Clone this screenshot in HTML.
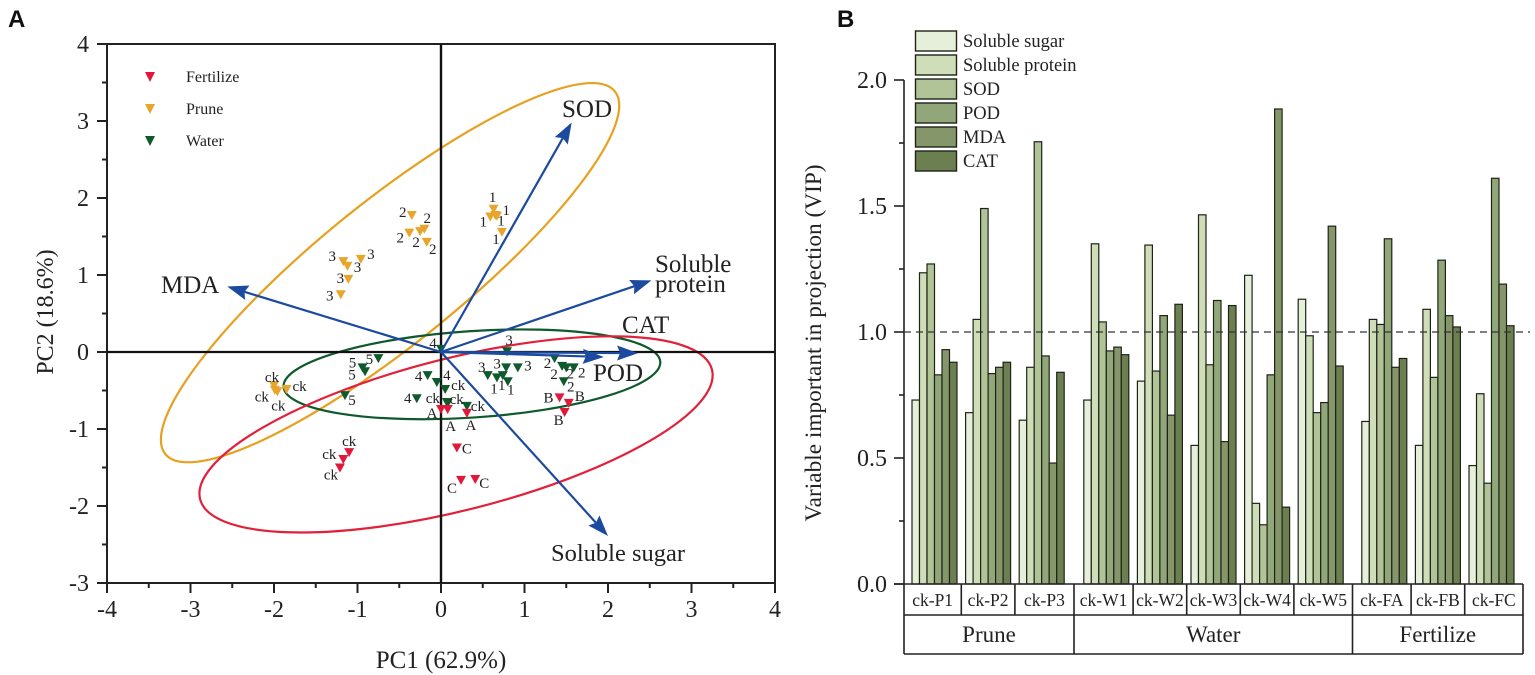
<!DOCTYPE html>
<html lang="en">
<head>
<meta charset="utf-8">
<title>PCA biplot and VIP bar chart</title>
<style>
html,body{margin:0;padding:0;background:#fff;width:1535px;height:675px;overflow:hidden}
svg{display:block;filter:blur(0.3px)}
text{font-family:"Liberation Serif",serif;fill:#222}
.panel{font-family:"Liberation Sans",sans-serif;font-weight:700;font-size:24px;fill:#111}
</style>
</head>
<body>
<svg id="figure" xmlns="http://www.w3.org/2000/svg" width="1535" height="675" viewBox="0 0 1535 675">
  <text class="panel" x="8" y="27">A</text>
  <text class="panel" x="837" y="27">B</text>

  <g id="pca">
    <rect x="107" y="44" width="668" height="539" fill="none" stroke="#222" stroke-width="2"/>
    <g id="pcaTicks"></g>
    <g id="pcaEllipses"></g>
    <line x1="107" y1="352" x2="775" y2="352" stroke="#111" stroke-width="2.2"/>
    <line x1="441" y1="44" x2="441" y2="583" stroke="#111" stroke-width="2.4"/>
    <g id="pcaPoints"></g>
    <g id="pcaArrows"></g>
    <text x="441" y="668" font-size="25" text-anchor="middle">PC1 (62.9%)</text>
    <text transform="translate(53,312) rotate(-90)" font-size="24" text-anchor="middle">PC2 (18.6%)</text>
    <g font-size="25">
      <text x="562" y="117">SOD</text>
      <text x="655" y="272">Soluble</text>
      <text x="655" y="292">protein</text>
      <text x="161" y="293">MDA</text>
      <text x="622" y="333">CAT</text>
      <text x="593" y="381">POD</text>
      <text x="551" y="561" font-size="24.5">Soluble sugar</text>
    </g>
    <g font-size="16">
      <g>
        <polygon points="145,72 155,72 150,82" fill="#e1183a"/>
        <text x="186" y="82">Fertilize</text>
      </g>
      <g>
        <polygon points="145,104 155,104 150,114" fill="#e7a52c"/>
        <text x="186" y="114">Prune</text>
      </g>
      <g>
        <polygon points="145,136 155,136 150,146" fill="#0f5a2c"/>
        <text x="186" y="146">Water</text>
      </g>
    </g>
  </g>

  <g id="vip">
    <text transform="translate(821,343) rotate(-90)" font-size="23.3" text-anchor="middle">Variable important in projection (VIP)</text>
    <g id="vipBars"></g>
    <g id="vipAxes"></g>
    <line x1="904" y1="332" x2="1530" y2="332" stroke="#333" stroke-width="1.2" stroke-dasharray="7 5"/>
    <g id="vipLegend"></g>
  </g>
</svg>
<script>
// ---------- Panel B data ----------
const vipCategories = ["ck-P1","ck-P2","ck-P3","ck-W1","ck-W2","ck-W3","ck-W4","ck-W5","ck-FA","ck-FB","ck-FC"];
const vipSeriesNames = ["Soluble sugar","Soluble protein","SOD","POD","MDA","CAT"];
const vipSolubleSugar   = [0.73,0.68,0.65,0.73,0.805,0.55,1.225,1.13,0.645,0.55,0.47];
const vipSolubleProtein = [1.235,1.05,0.86,1.35,1.345,1.465,0.32,0.985,1.05,1.09,0.755];
const vipSOD            = [1.27,1.49,1.755,1.04,0.845,0.87,0.235,0.68,1.03,0.82,0.40];
const vipPOD            = [0.83,0.835,0.905,0.925,1.065,1.125,0.83,0.72,1.37,1.285,1.61];
const vipMDA            = [0.93,0.86,0.48,0.94,0.67,0.565,1.885,1.42,0.86,1.065,1.19];
const vipCAT            = [0.88,0.88,0.84,0.91,1.11,1.105,0.305,0.865,0.895,1.02,1.025];
const vipGroups = ["Prune","Water","Fertilize"];
const vipGroupSizes = [3,5,3];
const vipTicks = [0,0.5,1,1.5,2];
const vipTickLabels = ["0.0","0.5","1.0","1.5","2.0"];
const vipMinorTicks = [0.25,0.75,1.25,1.75];

// ---------- Panel A data ----------
const pc1Ticks = [-4,-3,-2,-1,0,1,2,3,4];
const pc2Ticks = [-3,-2,-1,0,1,2,3,4];
const pc1Minor = [-3.5,-2.5,-1.5,-0.5,0.5,1.5,2.5,3.5];
const pc2Minor = [-2.5,-1.5,-0.5,0.5,1.5,2.5,3.5];

const prunePC1 = [-1.17,-1.12,-0.96,-1.11,-1.20,-0.35,-0.20,-0.25,-0.38,-0.17,0.63,0.65,0.59,0.67,0.73,-2.0,-1.99,-1.96,-1.85];
const prunePC2 = [1.18,1.12,1.21,0.95,0.75,1.78,1.60,1.57,1.55,1.43,1.86,1.78,1.76,1.77,1.56,-0.43,-0.49,-0.51,-0.48];
const pruneLabels = ["3","3","3","3","3","2","2","2","2","2","1","1","1","1","1","ck","ck","ck","ck"];
const pruneLabelDx = [-11,10,10,-8,-11,-9,3,-4,-9,6,-1,11,-7,4,-6,-2,-13,1,13];
const pruneLabelDy = [-5,1,-5,-1,1,-3,-11,11,5,7,-12,-5,5,5,7,-8,7,14,-3];

const waterPC1 = [-0.75,-0.94,-0.91,-1.15,0,-0.16,-0.05,-0.29,0.05,0.07,0.08,0.31,0.79,0.56,0.78,0.92,0.67,0.74,0.80,1.36,1.45,1.50,1.59,1.47];
const waterPC2 = [-0.08,-0.20,-0.25,-0.56,0.04,-0.30,-0.39,-0.60,-0.48,-0.65,-0.66,-0.70,0.01,-0.30,-0.20,-0.20,-0.33,-0.30,-0.38,-0.08,-0.18,-0.20,-0.20,-0.38];
const waterLabels = ["5","5","5","5","4","4","4","4","ck","ck","ck","ck","3","3","3","3","1","1","1","2","2","2","2","2"];
const waterLabelDx = [-9,-10,-13,7,-8,-9,10,-9,13,-14,9,11,2,-6,-9,10,-3,-1,3,-7,-8,4,8,7];
const waterLabelDy = [1,-5,3,5,-6,1,-7,0,-4,-4,-4,0,-11,-8,-4,-2,11,10,8,5,8,6,5,5];

const fertilizePC1 = [1.42,1.53,1.48,0,0.08,0.31,0.19,0.24,0.41,-1.10,-1.17,-1.21];
const fertilizePC2 = [-0.59,-0.66,-0.78,-0.74,-0.74,-0.79,-1.24,-1.66,-1.65,-1.30,-1.39,-1.50];
const fertilizeLabels = ["B","B","B","A","A","A","C","C","C","ck","ck","ck"];
const fertilizeLabelDx = [-11,11,-6,-9,3,4,10,-9,9,0,-14,-9];
const fertilizeLabelDy = [0,-7,8,4,17,12,1,8,4,-11,-5,7];

const loadingNames = ["SOD","Soluble protein","MDA","POD","CAT","Soluble sugar"];
const loadingPC1 = [1.565,2.52,-2.56,1.95,2.36,2.0];
const loadingPC2 = [2.98,0.93,0.85,-0.065,-0.015,-2.39];

const ellipseNames = ["prune","water","fertilize"];
const ellipseCenterPC1 = [-0.61,0.37,0.18];
const ellipseCenterPC2 = [1.03,-0.29,-1.07];
const ellipseMajor = [3.61,2.36,3.30];
const ellipseMinor = [0.89,0.54,0.95];
const ellipseAngle = [38.9,3.8,14.2];

// ---------- helpers ----------
const NS = "http://www.w3.org/2000/svg";
function add(tag, props, parent, name) {
  const el = document.createElementNS(NS, tag);
  for (const k in props) el.setAttribute(k, props[k]);
  
  
  parent.appendChild(el);
  return el;
}
function slug(s) { return s.toLowerCase().replace(/[^a-z0-9]+/g, '-'); }

// ---------- Panel A scales ----------
const xPC = v => 441 + v * 83.5;
const yPC = v => 352 - v * 77;
const pcaTicks = document.getElementById('pcaTicks');
const STROKE = '#222';
pc1Ticks.forEach(v => {
  add('line', {x1:xPC(v), x2:xPC(v), y1:583, y2:593, stroke:STROKE, 'stroke-width':2}, pcaTicks, 'x-tick-' + v);
  add('text', {x:xPC(v), y:617, 'font-size':24, 'text-anchor':'middle'}, pcaTicks, 'x-tick-label-' + v).textContent = String(v);
});
pc1Minor.forEach(v => add('line', {x1:xPC(v), x2:xPC(v), y1:583, y2:588, stroke:STROKE, 'stroke-width':2}, pcaTicks, 'x-minor-tick'));
pc2Ticks.forEach(v => {
  add('line', {x1:97, x2:107, y1:yPC(v), y2:yPC(v), stroke:STROKE, 'stroke-width':2}, pcaTicks, 'y-tick-' + v);
  add('text', {x:89, y:yPC(v) + 8, 'font-size':24, 'text-anchor':'end'}, pcaTicks, 'y-tick-label-' + v).textContent = String(v);
});
pc2Minor.forEach(v => add('line', {x1:102, x2:107, y1:yPC(v), y2:yPC(v), stroke:STROKE, 'stroke-width':2}, pcaTicks, 'y-minor-tick'));

const ellipseColors = ['#e7a020','#0f5a2c','#e2203a'];
const pcaEllipses = document.getElementById('pcaEllipses');
ellipseNames.forEach((n, i) => {
  const cx = xPC(ellipseCenterPC1[i]), cy = yPC(ellipseCenterPC2[i]);
  add('ellipse', {cx:cx, cy:cy, rx:ellipseMajor[i] * 80, ry:ellipseMinor[i] * 80,
    transform:'rotate(' + (-ellipseAngle[i]) + ' ' + cx + ' ' + cy + ')',
    fill:'none', stroke:ellipseColors[i], 'stroke-width':2.2}, pcaEllipses, 'confidence-ellipse-' + n);
});

const pcaPoints = document.getElementById('pcaPoints');
function drawPoints(pc1, pc2, labels, dx, dy, color, name) {
  pc1.forEach((v, i) => {
    const x = xPC(v), y = yPC(pc2[i]);
    add('polygon', {points:(x-5)+','+(y-4)+' '+(x+5)+','+(y-4)+' '+x+','+(y+5), fill:color}, pcaPoints, 'point-' + name + '-' + labels[i]);
    add('text', {x:x + dx[i], y:y + dy[i] + 5, 'font-size':15, 'text-anchor':'middle'}, pcaPoints, 'point-label-' + name + '-' + labels[i]).textContent = labels[i];
  });
}
drawPoints(prunePC1, prunePC2, pruneLabels, pruneLabelDx, pruneLabelDy, '#e7a52c', 'prune');
drawPoints(waterPC1, waterPC2, waterLabels, waterLabelDx, waterLabelDy, '#0f5a2c', 'water');
drawPoints(fertilizePC1, fertilizePC2, fertilizeLabels, fertilizeLabelDx, fertilizeLabelDy, '#e1183a', 'fertilize');

const pcaArrows = document.getElementById('pcaArrows');
loadingNames.forEach((n, i) => {
  const x0 = xPC(0), y0 = yPC(0), x1 = xPC(loadingPC1[i]), y1 = yPC(loadingPC2[i]);
  const len = Math.hypot(x1 - x0, y1 - y0), ux = (x1 - x0) / len, uy = (y1 - y0) / len;
  const px = -uy, py = ux;
  const bx = x1 - ux * 21, by = y1 - uy * 21, nx = x1 - ux * 18, ny = y1 - uy * 18;
  add('line', {x1:x0, y1:y0, x2:nx, y2:ny, stroke:'#1b4a9e', 'stroke-width':2.2}, pcaArrows, 'arrow-shaft-' + slug(n));
  add('polygon', {points:x1+','+y1+' '+(bx+px*7.5)+','+(by+py*7.5)+' '+nx+','+ny+' '+(bx-px*7.5)+','+(by-py*7.5), fill:'#1b4a9e'}, pcaArrows, 'arrow-head-' + slug(n));
});

// ---------- Panel B scales ----------
const yVIP = v => 584 - v * 252;
const groupGap = i => (i >= 3 ? 11 : 0) + (i >= 8 ? 10 : 0);
const groupX = i => 912 + i * 53.6 + groupGap(i);
const BAR_W = 7.5;
const vipSeries = [vipSolubleSugar, vipSolubleProtein, vipSOD, vipPOD, vipMDA, vipCAT];
const vipColors = ['#e6efd9','#cfdeb8','#b0c498','#91a77a','#85976a','#6c7f50'];
const vipBars = document.getElementById('vipBars');
vipCategories.forEach((c, i) => {
  vipSeries.forEach((s, k) => {
    add('rect', {x:groupX(i) + k * BAR_W, y:yVIP(s[i]), width:BAR_W, height:584 - yVIP(s[i]),
      fill:vipColors[k], stroke:'#1e2318', 'stroke-width':1.2}, vipBars, 'bar-' + slug(c) + '-' + slug(vipSeriesNames[k]));
  });
});

const vipAxes = document.getElementById('vipAxes');
add('line', {x1:904, x2:904, y1:yVIP(2), y2:654, stroke:STROKE, 'stroke-width':1.6}, vipAxes, 'vip-y-axis');
add('line', {x1:894, x2:1523, y1:584, y2:584, stroke:STROKE, 'stroke-width':1.6}, vipAxes, 'vip-x-axis');
add('line', {x1:904, x2:1523, y1:615, y2:615, stroke:STROKE, 'stroke-width':1.6}, vipAxes, 'category-row-rule');
add('line', {x1:904, x2:1523, y1:654, y2:654, stroke:STROKE, 'stroke-width':1.6}, vipAxes, 'group-row-rule');
add('line', {x1:1523, x2:1523, y1:584, y2:654, stroke:STROKE, 'stroke-width':1.6}, vipAxes, 'table-right-edge');
vipTicks.forEach((v, i) => {
  add('line', {x1:894, x2:904, y1:yVIP(v), y2:yVIP(v), stroke:STROKE, 'stroke-width':1.6}, vipAxes, 'vip-y-tick-' + vipTickLabels[i]);
  add('text', {x:887, y:yVIP(v) + 8, 'font-size':24, 'text-anchor':'end'}, vipAxes, 'vip-y-tick-label-' + vipTickLabels[i]).textContent = vipTickLabels[i];
});
vipMinorTicks.forEach(v => add('line', {x1:899, x2:904, y1:yVIP(v), y2:yVIP(v), stroke:STROKE, 'stroke-width':1.6}, vipAxes, 'vip-y-minor-tick'));

const cellEdge = i => i <= 0 ? 904 : i >= vipCategories.length ? 1523 : (groupX(i - 1) + 6 * BAR_W + groupX(i)) / 2;
vipCategories.forEach((c, i) => {
  const left = cellEdge(i), right = cellEdge(i + 1);
  if (i > 0) add('line', {x1:left, x2:left, y1:584, y2:615, stroke:STROKE, 'stroke-width':1.6}, vipAxes, 'category-divider');
  add('text', {x:(left + right) / 2, y:606, 'font-size':17.5, 'text-anchor':'middle'}, vipAxes, 'category-label-' + slug(c)).textContent = c;
});
let groupStart = 0;
vipGroups.forEach((g, i) => {
  const left = cellEdge(groupStart), right = cellEdge(groupStart + vipGroupSizes[i]);
  if (i > 0) add('line', {x1:left, x2:left, y1:615, y2:654, stroke:STROKE, 'stroke-width':1.6}, vipAxes, 'group-divider');
  add('text', {x:(left + right) / 2, y:642, 'font-size':23, 'text-anchor':'middle'}, vipAxes, 'group-label-' + slug(g)).textContent = g;
  groupStart += vipGroupSizes[i];
});

const vipLegend = document.getElementById('vipLegend');
vipSeriesNames.forEach((n, k) => {
  const y = 31 + k * 24;
  add('rect', {x:915.5, y:y, width:41, height:20, fill:vipColors[k], stroke:'#1e2318', 'stroke-width':1.4}, vipLegend, 'legend-swatch-' + slug(n));
  add('text', {x:963, y:y + 16, 'font-size':18.5}, vipLegend, 'legend-label-' + slug(n)).textContent = n;
});
</script>
</body>
</html>
